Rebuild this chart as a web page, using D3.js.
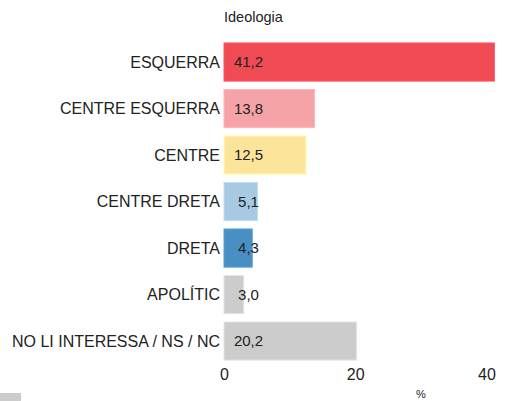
<!DOCTYPE html>
<html>
<head>
<meta charset="utf-8">
<script src="https://cdn.jsdelivr.net/npm/d3@7"></script>
<style>
  body { margin: 0; background: white; }
  text { font-family: "Liberation Sans", Arial, sans-serif; fill: #222; }
</style>
</head>
<body>
<script>
// data
let categories = ["ESQUERRA", "CENTRE ESQUERRA", "CENTRE", "CENTRE DRETA", "DRETA", "APOLÍTIC", "NO LI INTERESSA / NS / NC"]
let values = [41.2, 13.8, 12.5, 5.1, 4.3, 3.0, 20.2]
let colors = ["#f04b55", "#f5a3a6", "#fde49b", "#a7c9e2", "#4a8fc3", "#cccccc", "#cccccc"]
let ticks = [0, 20, 40]

let svg = d3.select("body")
  .append("svg")
    .attr("width", 516)
    .attr("height", 401)

let x = d3.scaleLinear().domain([0, 40]).range([224, 486.5])
let y = d3.scaleBand().domain(categories).range([34.6, 368.5]).padding(0.18)

svg.append("text")
    .attr("x", 224)
    .attr("y", 22)
    .attr("font-size", 14.5)
    .text("Ideologia")

let rows = svg.append("g").attr("id", "bars")
for (let i = 0; i < categories.length; i++) {
    let c = d3.color(colors[i]).brighter(0.3)
    rows.append("rect")
        .attr("x", x(0))
        .attr("y", y(categories[i]))
        .attr("width", x(values[i]) - x(0))
        .attr("height", y.bandwidth())
        .attr("fill", colors[i])
        .attr("stroke", c)
        .attr("stroke-width", 1)

    rows.append("text")
        .attr("x", x(0) - 4)
        .attr("y", y(categories[i]) + y.bandwidth() / 2)
        .attr("dy", "0.35em")
        .attr("text-anchor", "end")
        .attr("font-size", 16)
        .text(categories[i])

    rows.append("text")
        .attr("x", x(0) + 24.5)
        .attr("y", y(categories[i]) + y.bandwidth() / 2)
        .attr("dy", "0.35em")
        .attr("text-anchor", "middle")
        .attr("font-size", 15)
        .text(values[i].toFixed(1).replace(".", ","))
}

let axis = d3.axisBottom(x).tickValues(ticks).tickSize(0).tickPadding(0)
let ax = svg.append("g")
    .attr("transform", "translate(0, 369)")
    .call(axis)
ax.select(".domain").remove()
ax.selectAll("text")
    .attr("font-size", 16)
    .attr("dy", "0.7em")
    .style("font-family", "Liberation Sans, Arial, sans-serif")
    .attr("fill", "#222")

svg.append("text")
    .attr("x", 421)
    .attr("y", 398)
    .attr("text-anchor", "middle")
    .attr("font-size", 11)
    .text("%")

// legend swatch, cut off at the bottom
svg.append("rect")
    .attr("x", 0)
    .attr("y", 393)
    .attr("width", 21)
    .attr("height", 12)
    .attr("fill", "#cccccc")
</script>
</body>
</html>
